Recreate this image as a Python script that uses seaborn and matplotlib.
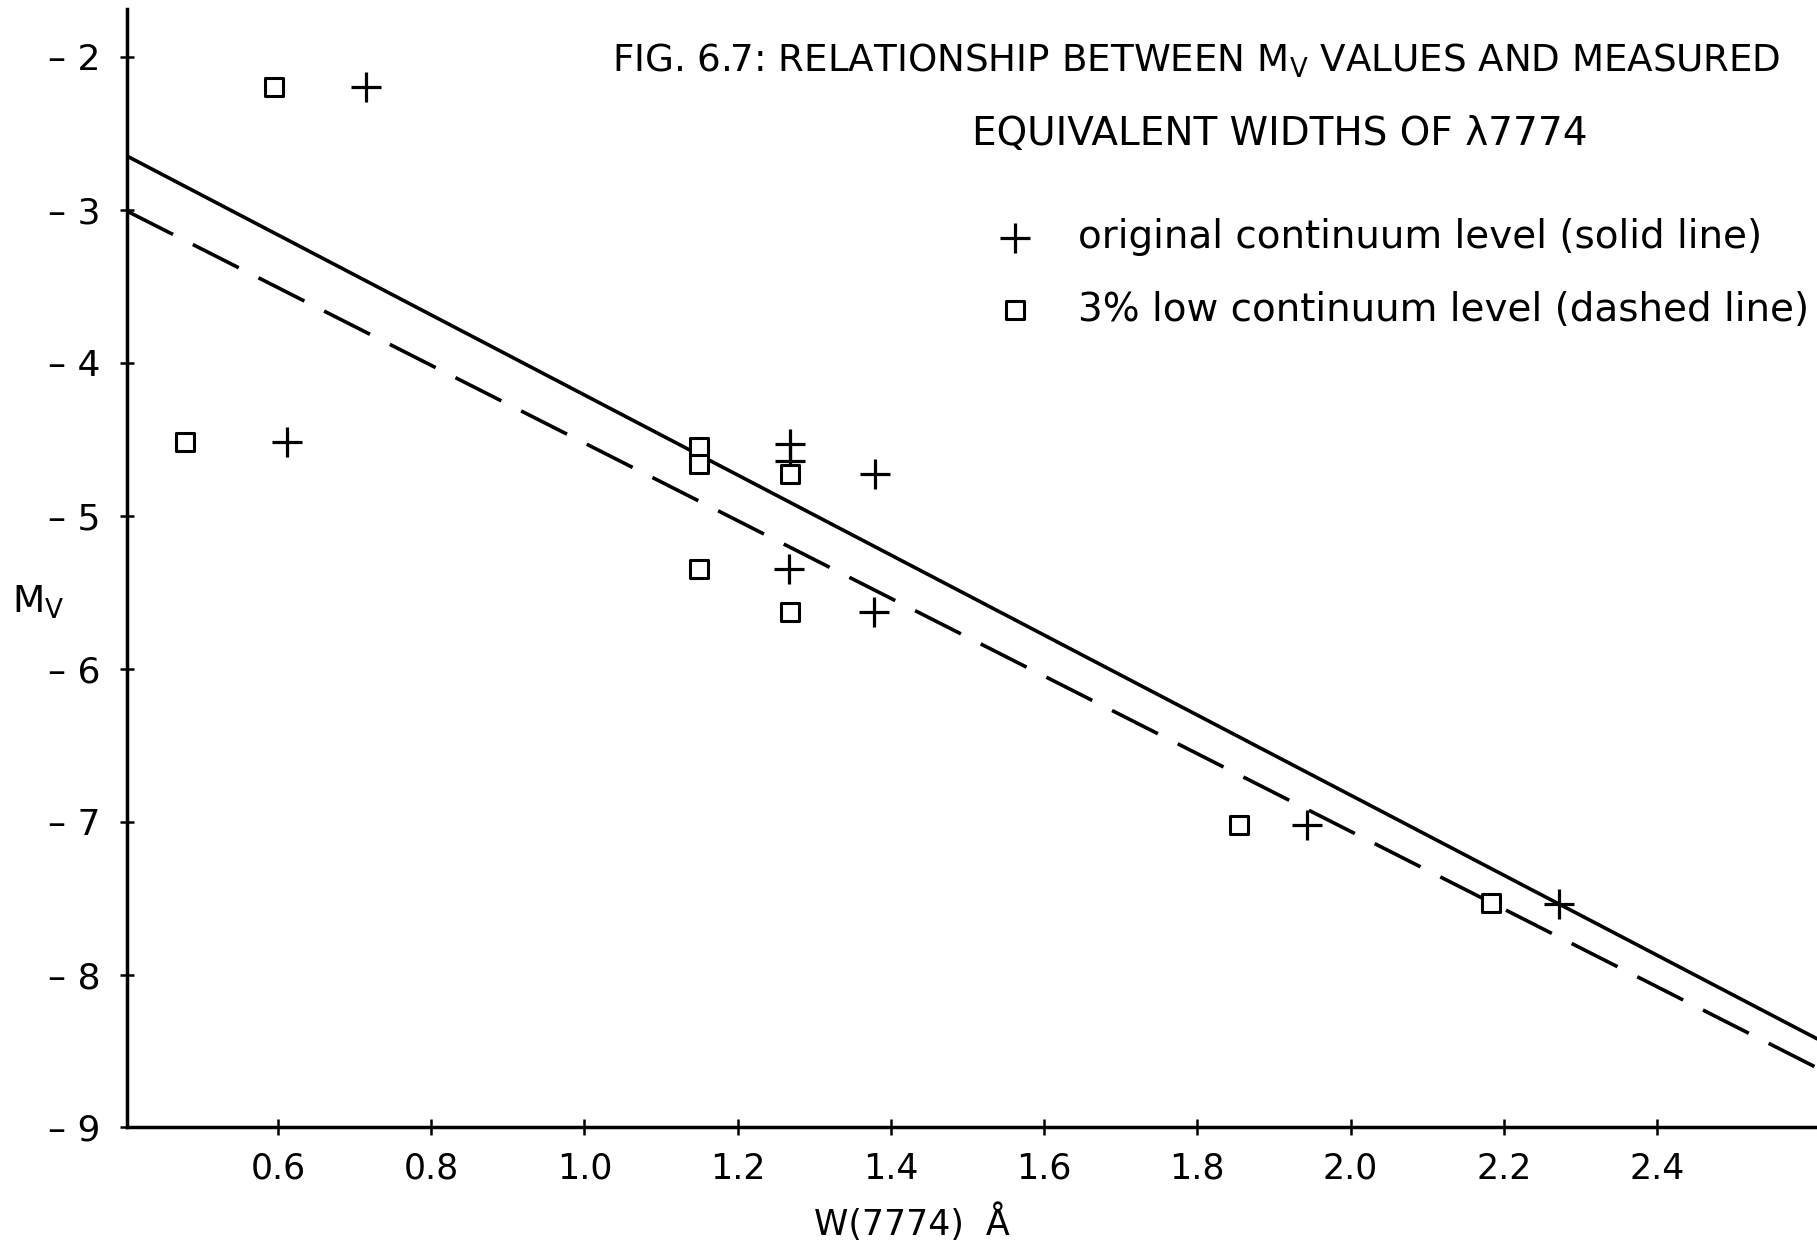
import matplotlib
matplotlib.use("Agg")
import matplotlib.pyplot as plt
import pandas as pd
import seaborn as sns

# Equivalent widths W(7774) [Å] and absolute magnitudes M_V
orig_w = [0.715, 0.611, 1.268, 1.268, 1.379, 1.267, 1.378, 1.943, 2.272]
orig_mv = [-2.20, -4.52, -4.53, -4.64, -4.73, -5.35, -5.63, -7.02, -7.54]
low_w = [0.595, 0.479, 1.150, 1.150, 1.268, 1.150, 1.268, 1.855, 2.184]
low_mv = [-2.20, -4.52, -4.55, -4.66, -4.73, -5.35, -5.63, -7.02, -7.53]

# Fitted relations, given at both ends of the plotted W range
fit_w = [0.403, 2.609]
solid_fit_mv = [-2.65, -8.42]
dashed_fit_mv = [-3.01, -8.61]

series_labels = ["original continuum level (solid line)",
                 "3% low continuum level (dashed line)"]

x_ticks = [0.6, 0.8, 1.0, 1.2, 1.4, 1.6, 1.8, 2.0, 2.2, 2.4]
x_tick_labels = ["0.6", "0.8", "1.0", "1.2", "1.4", "1.6", "1.8", "2.0", "2.2", "2.4"]
y_ticks = [-2, -3, -4, -5, -6, -7, -8, -9]
y_tick_labels = ["– 2", "– 3", "– 4", "– 5", "– 6", "– 7", "– 8", "– 9"]

orig_df = pd.DataFrame({"W": orig_w, "Mv": orig_mv})
low_df = pd.DataFrame({"W": low_w, "Mv": low_mv})

sns.set_theme(style="ticks", rc={
    "text.color": "black",
    "axes.labelcolor": "black",
    "xtick.color": "black",
    "ytick.color": "black",
    "axes.edgecolor": "black",
    "lines.scale_dashes": False,
})
plt.rcParams["font.family"] = ["DejaVu Sans"]

fig = plt.figure(figsize=(18.17, 12.42), dpi=100)
ax = fig.add_axes([0.0700, 0.0922, 0.9300, 0.9003])

# fitted lines
sns.lineplot(x=fit_w, y=solid_fit_mv, ax=ax, color="black", lw=2.6,
             legend=False)
sns.lineplot(x=fit_w, y=dashed_fit_mv, ax=ax, color="black", lw=2.6,
             linestyle=(0, (37, 16)), legend=False)

# measured points
sns.scatterplot(data=orig_df, x="W", y="Mv", ax=ax, marker="+", s=480,
                color="black", linewidth=2.3, label=series_labels[0],
                zorder=3)
sns.scatterplot(data=low_df, x="W", y="Mv", ax=ax, marker="s", s=150,
                facecolor="white", edgecolor="black", linewidth=2.2,
                label=series_labels[1], zorder=3)

ax.set_xlim(0.403, 2.609)
ax.set_ylim(-9, -1.69)

for side in ("top", "right"):
    ax.spines[side].set_visible(False)
for side in ("left", "bottom"):
    ax.spines[side].set_linewidth(2.5)

ax.set_xticks(x_ticks, labels=x_tick_labels)
ax.set_yticks(y_ticks, labels=y_tick_labels)
ax.tick_params(axis="y", which="major", left=True, direction="inout",
               length=10, width=1.8, pad=14, labelsize=26)
ax.tick_params(axis="x", which="major", bottom=True, direction="inout",
               length=11, width=1.8, pad=12, labelsize=25)

ax.set_xlabel("W(7774)  Å", fontsize=25)
ax.xaxis.label.set_va("baseline")
ax.xaxis.set_label_coords(0.4644, -0.0961)
ax.set_ylabel(r"$\mathregular{M_V}$", fontsize=27, rotation=0)
ax.yaxis.label.set_va("center")
ax.yaxis.label.set_ha("center")
ax.yaxis.set_label_coords(-0.0528, 0.470)

fig.text(0.337, 1 - 72 / 1242,
         r"FIG. 6.7: RELATIONSHIP BETWEEN $\mathregular{M_V}$ VALUES AND MEASURED",
         fontsize=26.8, ha="left", va="baseline")
fig.text(1280 / 1817, 1 - 145 / 1242, "EQUIVALENT WIDTHS OF λ7774",
         fontsize=28, ha="center", va="baseline")

handles, labels = ax.get_legend_handles_labels()
ax.legend(handles, labels, loc="upper left",
          bbox_to_anchor=(986 / 1817, 1 - 218 / 1242),
          bbox_transform=fig.transFigure, frameon=False, fontsize=28,
          borderpad=0, handlelength=1.5, handletextpad=0.87,
          labelspacing=0.89, borderaxespad=0)

fig.savefig("out.png", dpi=100, facecolor="white")
